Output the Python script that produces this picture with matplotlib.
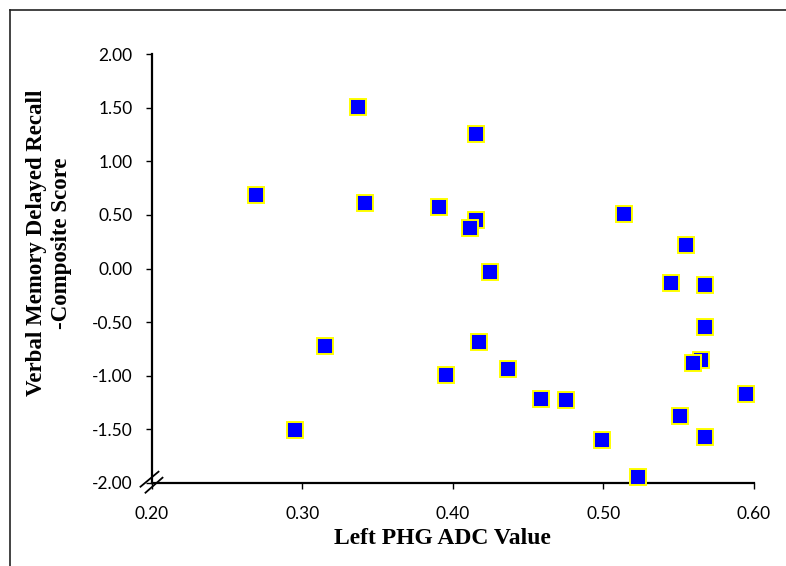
import matplotlib
matplotlib.use("Agg")
import matplotlib.pyplot as plt
from matplotlib.lines import Line2D
from matplotlib.transforms import Affine2D

# Data
adc = [0.2695, 0.2956, 0.3155, 0.337, 0.342, 0.391, 0.3957, 0.4157, 0.4157,
       0.4117, 0.4177, 0.4245, 0.4365, 0.4585, 0.4754, 0.499, 0.514, 0.523,
       0.5448, 0.5508, 0.5548, 0.5647, 0.5596, 0.5676, 0.5676, 0.5676, 0.5944]
score = [0.687, -1.505, -0.728, 1.505, 0.616, 0.576, -0.99, 1.256, 0.451,
         0.382, -0.687, -0.037, -0.936, -1.215, -1.231, -1.604, 0.507, -1.946,
         -0.136, -1.381, 0.215, -0.852, -0.883, -0.158, -0.547, -1.577, -1.175]
xticks = [0.20, 0.30, 0.40, 0.50, 0.60]
yticks = [-2.0, -1.5, -1.0, -0.5, 0.0, 0.5, 1.0, 1.5, 2.0]
xlabel = "Left PHG ADC Value"
ylabel = "Verbal Memory Delayed Recall\n-Composite Score"

W, H = 786, 566
fig = plt.figure(figsize=(W / 100, H / 100), dpi=100)
ax = fig.add_axes([151.5 / W, 1 - 482.7 / H, (754 - 151.5) / W, (482.7 - 54.3) / H])

ax.plot(adc, score, linestyle="none", marker="s", markersize=11.5,
        markerfacecolor="#0000FF", markeredgecolor="#FFFF00",
        markeredgewidth=1.4, clip_on=False, zorder=5)

ax.set_xlim(0.2, 0.6)
ax.set_ylim(-2, 2)
ax.set_xticks(xticks)
ax.set_yticks(yticks)
ax.set_xticklabels([f"{v:.2f}" for v in xticks])
ax.set_yticklabels([f"{v:.2f}" for v in yticks])
for s in ["top", "right"]:
    ax.spines[s].set_visible(False)
for s in ["left", "bottom"]:
    ax.spines[s].set_linewidth(1.6)
    ax.spines[s].set_color("black")
ax.tick_params(axis="both", direction="out", length=4.5, width=1.0,
               colors="black", labelsize=12.5)
ax.tick_params(axis="x", pad=12)
ax.tick_params(axis="y", pad=9)
for lab in ax.get_xticklabels() + ax.get_yticklabels():
    lab.set_fontfamily("Lato")

# axis labels
fig.text(442 / W, 1 - 539 / H, xlabel, ha="center", va="center",
         fontsize=17, fontweight="bold", family="Liberation Serif")
fig.text(49 / W, 1 - 243 / H, ylabel, ha="center", va="center",
         rotation=90, fontsize=16.5, fontweight="bold",
         family="Liberation Serif", linespacing=1.2, multialignment="center")

# axis break marks at origin
fig.canvas.draw()
ox, oy = ax.transData.transform((0.2, -2.0))
T = Affine2D().translate(ox, oy)
for (x0, y0, x1, y1) in [(-11, -4, 7, 11), (-6, -10, 11, 5)]:
    fig.add_artist(Line2D([x0, x1], [y0, y1], transform=T, color="black",
                          linewidth=1.3, clip_on=False, zorder=10))

# outer frame (left and top edges visible)
fig.add_artist(Line2D([9.5 / W, 9.5 / W], [0, 1 - 9.5 / H],
                      transform=fig.transFigure, color="#222222", linewidth=1.2))
fig.add_artist(Line2D([9.5 / W, 1], [1 - 9.5 / H, 1 - 9.5 / H],
                      transform=fig.transFigure, color="#222222", linewidth=1.2))

fig.savefig("out.png", dpi=100)
